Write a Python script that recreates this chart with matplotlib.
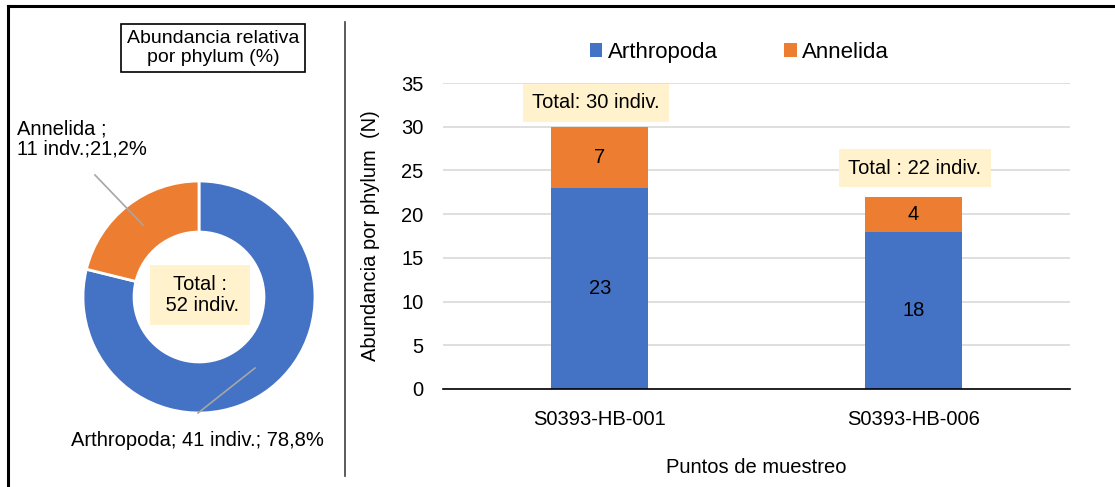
import matplotlib
matplotlib.use("Agg")
import matplotlib.pyplot as plt
from matplotlib.lines import Line2D

plt.rcParams['font.family'] = ['Liberation Sans', 'DejaVu Sans']

# ---- data ----
phyla = ["Arthropoda", "Annelida"]
pie_counts = [41, 11]
pie_pct = ["78,8%", "21,2%"]
pie_total = 52

sites = ["S0393-HB-001", "S0393-HB-006"]
arthropoda = [23, 18]
annelida = [7, 4]
totals_labels = ["Total: 30 indiv.", "Total : 22 indiv."]

colors = ["#4472C4", "#ED7D31"]

W, H = 1115, 487
fig = plt.figure(figsize=(W / 100, H / 100), dpi=100)


def fx(px):
    return px / W


def fy(py):
    return 1 - py / H


FS = 14.5

# ---- outer frame & divider ----
fig.add_artist(Line2D([fx(8), fx(8)], [fy(6), fy(487)], color="black", lw=2.2, transform=fig.transFigure))
fig.add_artist(Line2D([fx(8), fx(1115)], [fy(6), fy(6)], color="black", lw=2.2, transform=fig.transFigure))
fig.add_artist(Line2D([fx(345), fx(345)], [fy(22), fy(476)], color="#404040", lw=1.2, transform=fig.transFigure))

# ---- donut ----
cx, cy, r = 199, 297, 116
axp = fig.add_axes([fx(cx - r), fy(cy + r), 2 * r / W, 2 * r / H])
axp.pie(pie_counts, colors=colors, startangle=90, counterclock=False,
        radius=1, wedgeprops=dict(width=0.44, edgecolor="white", linewidth=2))
axp.set_xlim(-1, 1)
axp.set_ylim(-1, 1)
axp.set_aspect("auto")
axp.axis("off")

# title box
fig.text(fx(213), fy(48), "Abundancia relativa\npor phylum (%)", ha="center", va="center",
         fontsize=14, linespacing=1.15,
         bbox=dict(boxstyle="square,pad=0.3", fc="white", ec="black", lw=1.2))

# center total
fig.text(fx(200), fy(295), "Total :\n" + f" {pie_total} indiv.", ha="center", va="center",
         fontsize=FS, linespacing=1.1,
         bbox=dict(boxstyle="square,pad=0.5", fc="#FFF2CC", ec="none"))

# slice labels
fig.text(fx(17), fy(139), f"{phyla[1]} ;\n{pie_counts[1]} indv.;{pie_pct[1]}", ha="left", va="center",
         fontsize=FS, linespacing=1.1)
fig.text(fx(197), fy(441), f"{phyla[0]}; {pie_counts[0]} indiv.; {pie_pct[0]}", ha="center", va="center",
         fontsize=FS)
fig.add_artist(Line2D([fx(95), fx(143)], [fy(175), fy(225)], color="#A6A6A6", lw=1.2, transform=fig.transFigure))
fig.add_artist(Line2D([fx(255), fx(198)], [fy(368), fy(413)], color="#A6A6A6", lw=1.2, transform=fig.transFigure))

# ---- stacked bars ----
ax = fig.add_axes([fx(443), fy(389), (1070 - 443) / W, (389 - 83) / H])
x = list(range(len(sites)))
b1 = ax.bar(x, arthropoda, width=0.31, color=colors[0], label=phyla[0], zorder=3)
b2 = ax.bar(x, annelida, width=0.31, bottom=arthropoda, color=colors[1], label=phyla[1], zorder=3)
ax.bar_label(b1, label_type="center", fontsize=FS)
ax.bar_label(b2, label_type="center", fontsize=FS)

ax.set_xlim(-0.5, 1.5)
ax.set_ylim(0, 35)
ax.set_yticks(range(0, 36, 5))
ax.set_xticks(x)
ax.set_xticklabels(sites)
ax.tick_params(axis="both", length=0, labelsize=FS)
ax.tick_params(axis="x", pad=15)
ax.tick_params(axis="y", pad=14)
ax.grid(axis="y", color="#D9D9D9", lw=1.2, zorder=0)
for s in ["top", "right", "left"]:
    ax.spines[s].set_visible(False)
ax.spines["bottom"].set_color("black")
ax.spines["bottom"].set_linewidth(1.2)
ax.spines["bottom"].set_zorder(4)

ax.set_ylabel("Abundancia por phylum  (N)", fontsize=FS, labelpad=15)
ax.set_xlabel("Puntos de muestreo", fontsize=FS, labelpad=21)

# total labels
tot_pos = [(596, 103), (915, 168)]
for lab, (px, py) in zip(totals_labels, tot_pos):
    fig.text(fx(px), fy(py), lab, ha="center", va="center", fontsize=FS,
             bbox=dict(boxstyle="square,pad=0.45", fc="#FFF2CC", ec="none"))

# legend
ax.legend(loc="center", bbox_to_anchor=(0.473, 1.1), ncol=2, frameon=False,
          fontsize=16, handlelength=0.55, handleheight=0.55, handletextpad=0.25, columnspacing=3.0)

fig.savefig("out.png", dpi=100)
